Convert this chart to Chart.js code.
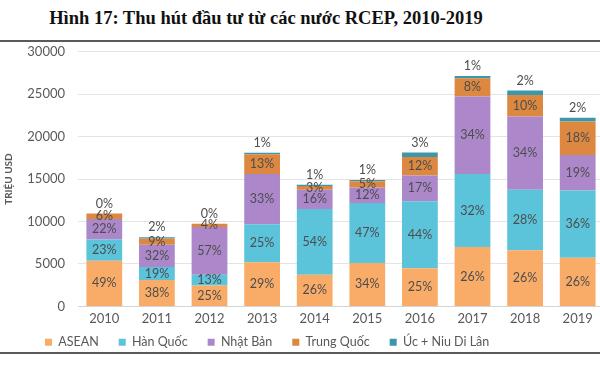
<!DOCTYPE html>
<html><head><meta charset="utf-8">
<script src="https://cdn.jsdelivr.net/npm/chart.js@4/dist/chart.umd.min.js"></script>
<style>
html,body{margin:0;padding:0;background:#fff;}
body{width:600px;height:375px;overflow:hidden;position:relative;}
#title{position:absolute;left:0;width:532px;top:6px;text-align:center;font:bold 18.5px "Liberation Serif",serif;color:#111;line-height:24px;white-space:nowrap;}
.rule{position:absolute;left:0;width:600px;height:2px;background:#5a5a5a;z-index:2;}
#wrap{position:absolute;left:0;top:31px;width:606px;height:317px;z-index:1;}
</style></head><body>
<div id="title">Hình 17: Thu hút đầu tư từ các nước RCEP, 2010-2019</div>
<div class="rule" style="top:40px"></div>
<div id="wrap"><canvas id="c"></canvas></div>
<div class="rule" style="top:352px"></div>
<script>
// Categories and data (million USD totals, % shares per partner)
const years = ['2010','2011','2012','2013','2014','2015','2016','2017','2018','2019'];
const totals = [10950, 8150, 9750, 18100, 14330, 14900, 18130, 27150, 25430, 22230];
const seriesNames = ['ASEAN', 'Hàn Quốc', 'Nhật Bản', 'Trung Quốc', 'Úc + Niu Di Lân'];
const shareASEAN = [49, 38, 25, 29, 26, 34, 25, 26, 26, 26];
const shareHan   = [23, 19, 13, 25, 54, 47, 44, 32, 28, 36];
const shareNhat  = [22, 32, 57, 33, 16, 12, 17, 34, 34, 19];
const shareTrung = [6, 9, 4, 13, 3, 5, 12, 8, 10, 18];
const shareUc    = [0, 2, 0, 1, 1, 1, 3, 1, 2, 2];
const yTicks = [0, 5000, 10000, 15000, 20000, 25000, 30000];

const shares = [shareASEAN, shareHan, shareNhat, shareTrung, shareUc];
const colors = ['#F9AC68', '#5BC3DA', '#AC88CB', '#DC8840', '#3B97AC'];
const sumShares = years.map((_, j) => shares.reduce((s, a) => s + a[j], 0));
const datasets = shares.map((arr, i) => ({
  label: seriesNames[i],
  data: arr.map((p, j) => totals[j] * p / sumShares[j]),
  backgroundColor: colors[i],
  borderWidth: 0,
  barPercentage: 0.68,
  categoryPercentage: 1.0
}));

const WRAP_TOP = 31;
const LEG_H = 16;
const labelPlugin = {
  id: 'pctLabels',
  beforeUpdate(chart) {
    const lg = chart.legend;
    if (lg && !lg._patched) {
      const f = lg.fit;
      lg.fit = function () { f.call(this); this.height = LEG_H; };
      lg._patched = true;
    }
  },
  afterLayout(chart) {
    const lg = chart.legend;
    if (!lg || !lg.lineWidths) return;
    const pad = 20;
    const x0 = (lg.left + pad + lg.right - lg.lineWidths[0]) / 2;
    const dx = 45 - x0;
    lg.left += dx; lg.right += dx;
    const top = (342 - WRAP_TOP) - pad - 6;
    lg.top = top; lg.bottom = chart.height;
  },
  afterDatasetsDraw(chart) {
    const ctx = chart.ctx;
    ctx.save();
    ctx.font = '12.5px Lato';
    ctx.fillStyle = '#4d4d4d';
    ctx.textAlign = 'center';
    ctx.textBaseline = 'middle';
    const nd = shares.length;
    for (let i = 0; i < nd; i++) {
      const meta = chart.getDatasetMeta(i);
      meta.data.forEach((el, j) => {
        const txt = shares[i][j] + '%';
        if (i === nd - 1) {
          ctx.fillText(txt, el.x, el.y - 10);
        } else {
          ctx.fillText(txt, el.x, (el.y + el.base) / 2);
        }
      });
    }
    ctx.restore();
  }
};

new Chart(document.getElementById('c'), {
  type: 'bar',
  data: { labels: years, datasets },
  options: {
    responsive: true,
    maintainAspectRatio: false,
    animation: false,
    layout: { padding: { top: 0, right: 2, left: 0, bottom: 0 } },
    plugins: {
      title: { display: false },
      tooltip: { enabled: false },
      legend: {
        position: 'bottom',
        align: 'center',
        labels: {
          boxWidth: 7, boxHeight: 7, padding: 20,
          color: '#595959',
          font: { family: 'Lato', size: 12.5 }
        }
      }
    },
    scales: {
      x: {
        stacked: true,
        grid: { display: false, drawTicks: false },
        border: { display: true, color: '#d4d4d4', width: 1 },
        ticks: { color: '#595959', font: { family: 'Lato', size: 13 }, padding: 5 }
      },
      y: {
        stacked: true,
        min: 0, max: 30000,
        afterBuildTicks(scale) { scale.ticks = yTicks.map(v => ({ value: v })); },
        afterFit(scale) { scale.width = 78; },
        grid: { color: '#e4e4e4', drawTicks: false },
        border: { display: false },
        ticks: { color: '#595959', font: { family: 'Lato', size: 13 }, padding: 13, callback: v => String(v) },
        title: { display: true, text: 'TRIỆU USD', color: '#595959', font: { family: 'Lato', size: 10, weight: 'bold' }, padding: { top: 3, bottom: 0 } }
      }
    }
  },
  plugins: [labelPlugin]
});
</script>
</body></html>
